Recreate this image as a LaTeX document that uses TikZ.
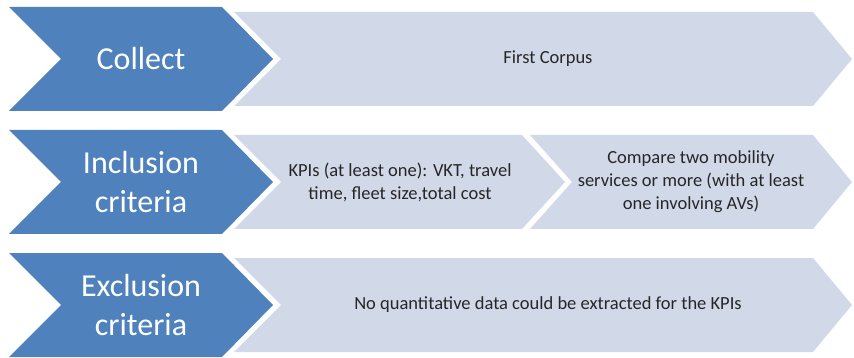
\documentclass[tikz,border=0pt]{standalone}
\usepackage{fontspec}
\setmainfont{Carlito}
\usepackage{tikz}
\usetikzlibrary{positioning,calc}
\definecolor{primary}{RGB}{79,129,189}
\definecolor{secondary}{RGB}{209,217,233}
\tikzset{
  stagebox/.style={fill=primary},
  detailbox/.style={fill=secondary},
  stagelabel/.style={text=white,font=\fontsize{32}{39}\selectfont,align=center},
  detaillabel/.style={text=black!85,font=\fontsize{18.5}{23}\selectfont,align=center}
}

\begin{document}
\begin{tikzpicture}[x=1pt,y=-1pt]
\useasboundingbox (0,0) rectangle (854,358);
% stage chevrons
\fill[stagebox] (9,7) -- (222,7) -- (273,59) -- (222,111) -- (9,111) -- (61,59) -- cycle;
\fill[stagebox] (9,130) -- (222,130) -- (273,182) -- (222,234) -- (9,234) -- (61,182) -- cycle;
\fill[stagebox] (9,253) -- (222,253) -- (273,305) -- (222,357) -- (9,357) -- (61,305) -- cycle;
% detail chevrons
\fill[detailbox] (234,12) -- (813,12) -- (852,59) -- (813,106) -- (234,106) -- (281,59) -- cycle;
\fill[detailbox] (234,135) -- (522,135) -- (565,182) -- (522,229) -- (234,229) -- (281,182) -- cycle;
\fill[detailbox] (530,135) -- (813,135) -- (852,182) -- (813,229) -- (530,229) -- (572,182) -- cycle;
\fill[detailbox] (234,258) -- (813,258) -- (852,305) -- (813,352) -- (234,352) -- (281,305) -- cycle;
% labels
\node[stagelabel] (collect) at (141,59) {Collect};
\node[stagelabel] (incl) at (141,182) {Inclusion\\criteria};
\node[stagelabel] (excl) at (141,305) {Exclusion\\criteria};
\node[detaillabel] (corpus) at (548,59) {First Corpus};
\node[detaillabel] (kpis) at (400,182) {KPIs (at least one): VKT, travel\\time, fleet size,total cost};
\node[detaillabel] (compare) at (691,182) {Compare two mobility\\services or more (with at least\\one involving AVs)};
\node[detaillabel] (noquant) at (548,305) {No quantitative data could be extracted for the KPIs};
\end{tikzpicture}
\end{document}
